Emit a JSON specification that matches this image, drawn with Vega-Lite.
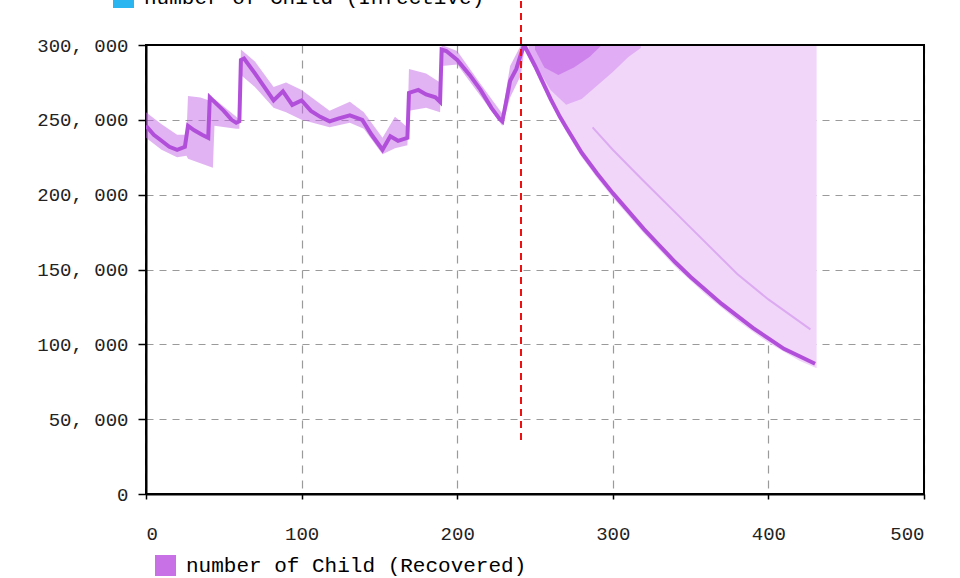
{
  "$schema": "https://vega.github.io/schema/vega-lite/v6.json",
  "width": 778,
  "height": 449,
  "autosize": "none",
  "padding": {"left": 146, "top": 45, "right": 36, "bottom": 84},
  "background": "white",
  "config": {
    "view": {"stroke": "black", "strokeWidth": 2},
    "axis": {
      "labelFont": "Liberation Mono",
      "labelFontSize": 19,
      "labelColor": "#222222",
      "domainColor": "black",
      "domainWidth": 2,
      "tickColor": "black",
      "tickWidth": 1.5,
      "gridColor": "#9a9a9a",
      "gridDash": [7, 6],
      "gridWidth": 1.2,
      "title": null
    },
    "legend": {
      "labelFont": "Liberation Mono",
      "labelFontSize": 21,
      "labelColor": "black",
      "labelLimit": 0,
      "symbolType": "square",
      "symbolSize": 440,
      "symbolStrokeWidth": 0,
      "labelOffset": 10,
      "title": null,
      "padding": 0
    }
  },
  "datasets": {
    "main": [
      {"t": 0, "v": 246000}, {"t": 5, "v": 240000}, {"t": 10, "v": 236000}, {"t": 15, "v": 232000},
      {"t": 20, "v": 230000}, {"t": 25, "v": 232000}, {"t": 27, "v": 246000}, {"t": 31, "v": 243000},
      {"t": 36, "v": 240000}, {"t": 40, "v": 238000}, {"t": 41, "v": 265000}, {"t": 46, "v": 260000},
      {"t": 50, "v": 256000}, {"t": 55, "v": 250000}, {"t": 58, "v": 248000}, {"t": 60, "v": 249000},
      {"t": 61, "v": 290000}, {"t": 63, "v": 291000}, {"t": 70, "v": 281000}, {"t": 76, "v": 272000},
      {"t": 82, "v": 263000}, {"t": 88, "v": 269000}, {"t": 94, "v": 260000}, {"t": 100, "v": 263000},
      {"t": 106, "v": 256000}, {"t": 112, "v": 252000}, {"t": 118, "v": 249000}, {"t": 124, "v": 251000},
      {"t": 131, "v": 253000}, {"t": 139, "v": 250000}, {"t": 145, "v": 240000}, {"t": 152, "v": 230000},
      {"t": 157, "v": 239000}, {"t": 162, "v": 236000}, {"t": 168, "v": 238000}, {"t": 169, "v": 268000},
      {"t": 175, "v": 270000}, {"t": 180, "v": 267000}, {"t": 186, "v": 265000}, {"t": 189, "v": 262000},
      {"t": 190, "v": 297000}, {"t": 193, "v": 296000}, {"t": 200, "v": 290000}, {"t": 208, "v": 280000},
      {"t": 215, "v": 270000}, {"t": 222, "v": 258000}, {"t": 227, "v": 251000}, {"t": 229, "v": 249000},
      {"t": 232, "v": 265000}, {"t": 234, "v": 276000}, {"t": 238, "v": 284000}, {"t": 241, "v": 294000},
      {"t": 243, "v": 300000}, {"t": 250, "v": 286000}, {"t": 255, "v": 275000}, {"t": 260, "v": 264000},
      {"t": 266, "v": 252000}, {"t": 270, "v": 245000}, {"t": 280, "v": 228000}, {"t": 290, "v": 214000},
      {"t": 300, "v": 201000}, {"t": 310, "v": 189000}, {"t": 320, "v": 177000}, {"t": 330, "v": 166000},
      {"t": 340, "v": 155000}, {"t": 350, "v": 145000}, {"t": 360, "v": 136000}, {"t": 370, "v": 127000},
      {"t": 380, "v": 119000}, {"t": 390, "v": 111000}, {"t": 400, "v": 104000}, {"t": 410, "v": 97000},
      {"t": 420, "v": 92000}, {"t": 430, "v": 87000}
    ],
    "band": [
      {"t": 0, "lo": 238000, "hi": 255000}, {"t": 10, "lo": 230000, "hi": 247000}, {"t": 20, "lo": 225000, "hi": 240000},
      {"t": 26, "lo": 226000, "hi": 240000}, {"t": 27, "lo": 224000, "hi": 266000}, {"t": 35, "lo": 221000, "hi": 265000},
      {"t": 43, "lo": 218000, "hi": 262000}, {"t": 44, "lo": 246000, "hi": 264000}, {"t": 58, "lo": 244000, "hi": 252000},
      {"t": 60, "lo": 244000, "hi": 250000}, {"t": 61, "lo": 280000, "hi": 297000}, {"t": 70, "lo": 272000, "hi": 289000},
      {"t": 82, "lo": 258000, "hi": 272000}, {"t": 90, "lo": 255000, "hi": 275000}, {"t": 100, "lo": 250000, "hi": 270000},
      {"t": 118, "lo": 245000, "hi": 256000}, {"t": 131, "lo": 248000, "hi": 262000}, {"t": 140, "lo": 244000, "hi": 255000},
      {"t": 152, "lo": 227000, "hi": 238000}, {"t": 160, "lo": 231000, "hi": 252000}, {"t": 168, "lo": 233000, "hi": 245000},
      {"t": 169, "lo": 256000, "hi": 284000}, {"t": 180, "lo": 258000, "hi": 281000}, {"t": 189, "lo": 255000, "hi": 275000},
      {"t": 190, "lo": 286000, "hi": 300000}, {"t": 200, "lo": 287000, "hi": 296000}, {"t": 215, "lo": 266000, "hi": 274000},
      {"t": 229, "lo": 246000, "hi": 254000}, {"t": 234, "lo": 265000, "hi": 286000}, {"t": 241, "lo": 280000, "hi": 300000},
      {"t": 243, "lo": 296000, "hi": 300000}
    ],
    "fan": [
      {"t": 243, "lo": 298000, "hi": 300000}, {"t": 250, "lo": 283000, "hi": 300000}, {"t": 260, "lo": 261000, "hi": 300000},
      {"t": 270, "lo": 242000, "hi": 300000}, {"t": 280, "lo": 225000, "hi": 300000}, {"t": 290, "lo": 211000, "hi": 300000},
      {"t": 300, "lo": 198000, "hi": 300000}, {"t": 320, "lo": 174000, "hi": 300000}, {"t": 340, "lo": 152000, "hi": 300000},
      {"t": 360, "lo": 133000, "hi": 300000}, {"t": 380, "lo": 116000, "hi": 300000}, {"t": 400, "lo": 101000, "hi": 300000},
      {"t": 420, "lo": 89000, "hi": 300000}, {"t": 431, "lo": 84000, "hi": 300000}
    ],
    "core": [
      {"t": 246, "lo": 296000, "hi": 300000}, {"t": 252, "lo": 284000, "hi": 300000}, {"t": 260, "lo": 270000, "hi": 300000},
      {"t": 270, "lo": 260000, "hi": 300000}, {"t": 280, "lo": 264000, "hi": 300000}, {"t": 290, "lo": 273000, "hi": 300000},
      {"t": 300, "lo": 282000, "hi": 300000}, {"t": 310, "lo": 292000, "hi": 300000}, {"t": 318, "lo": 298000, "hi": 300000}
    ],
    "dark": [
      {"t": 250, "lo": 297000, "hi": 300000}, {"t": 256, "lo": 285000, "hi": 300000}, {"t": 265, "lo": 280000, "hi": 300000},
      {"t": 275, "lo": 285000, "hi": 300000}, {"t": 285, "lo": 292000, "hi": 300000}, {"t": 292, "lo": 299000, "hi": 300000}
    ],
    "faint": [
      {"t": 287, "v": 245000}, {"t": 300, "v": 230000}, {"t": 319, "v": 210000}, {"t": 350, "v": 178000},
      {"t": 380, "v": 147000}, {"t": 400, "v": 130000}, {"t": 427, "v": 110000}
    ],
    "frame": [
      {"x": 0, "x2": 500, "y": 300000, "y2": 300000},
      {"x": 500, "x2": 500, "y": 0, "y2": 300000}
    ],
    "marker": [{"t": 241, "y0": 36000, "y1": 330000}],
    "legendrow": [{"t": 0, "v": 0}]
  },
  "layer": [
    {
      "data": {"name": "fan"},
      "mark": {"type": "area", "color": "#f1d6fa", "clip": true},
      "encoding": {
        "x": {"field": "t", "type": "quantitative", "scale": {"domain": [0, 500], "nice": false},
              "axis": {"values": [0, 100, 200, 300, 400, 500], "tickSize": 5, "labelPadding": 25, "gridDash": [8, 7]}},
        "y": {"field": "lo", "type": "quantitative", "scale": {"domain": [0, 300000], "nice": false},
              "axis": {"values": [0, 50000, 100000, 150000, 200000, 250000, 300000], "tickSize": 8, "labelPadding": 10,
                       "labelExpr": "replace(format(datum.value, ','), ',', ', ')"}},
        "y2": {"field": "hi"}
      }
    },
    {
      "data": {"name": "core"},
      "mark": {"type": "area", "color": "#d48cf0", "opacity": 0.55, "clip": true},
      "encoding": {
        "x": {"field": "t", "type": "quantitative"},
        "y": {"field": "lo", "type": "quantitative"},
        "y2": {"field": "hi"}
      }
    },
    {
      "data": {"name": "dark"},
      "mark": {"type": "area", "color": "#c060e4", "opacity": 0.55, "clip": true},
      "encoding": {
        "x": {"field": "t", "type": "quantitative"},
        "y": {"field": "lo", "type": "quantitative"},
        "y2": {"field": "hi"}
      }
    },
    {
      "data": {"name": "faint"},
      "mark": {"type": "line", "color": "#dcaaf0", "strokeWidth": 2, "clip": true},
      "encoding": {
        "x": {"field": "t", "type": "quantitative"},
        "y": {"field": "v", "type": "quantitative"}
      }
    },
    {
      "data": {"name": "band"},
      "mark": {"type": "area", "color": "#c468e6", "opacity": 0.5, "clip": true},
      "encoding": {
        "x": {"field": "t", "type": "quantitative"},
        "y": {"field": "lo", "type": "quantitative"},
        "y2": {"field": "hi"}
      }
    },
    {
      "data": {"name": "main"},
      "mark": {"type": "line", "strokeWidth": 4, "clip": true},
      "encoding": {
        "x": {"field": "t", "type": "quantitative"},
        "y": {"field": "v", "type": "quantitative"},
        "color": {"datum": "number of Child (Recovered)", "type": "nominal",
                  "scale": {"domain": ["number of Child (Recovered)"], "range": ["#b24fda"]},
                  "legend": {"orient": "none", "legendX": 9, "legendY": 510, "symbolFillColor": "#c870e6"}}
      }
    },
    {
      "data": {"name": "legendrow"},
      "mark": {"type": "point", "opacity": 0, "filled": true},
      "encoding": {
        "x": {"field": "t", "type": "quantitative"},
        "y": {"field": "v", "type": "quantitative"},
        "fill": {"datum": "number of Child (Infective)", "type": "nominal",
                 "scale": {"domain": ["number of Child (Infective)"], "range": ["#2ab4f0"]},
                 "legend": {"orient": "none", "legendX": -33, "legendY": -58, "symbolOpacity": 1}}
      }
    },
    {
      "data": {"name": "frame"},
      "mark": {"type": "rule", "color": "black", "strokeWidth": 2, "clip": false},
      "encoding": {
        "x": {"field": "x", "type": "quantitative"},
        "x2": {"field": "x2"},
        "y": {"field": "y", "type": "quantitative"},
        "y2": {"field": "y2"}
      }
    },
    {
      "data": {"name": "marker"},
      "mark": {"type": "rule", "color": "#ee1111", "strokeWidth": 2, "strokeDash": [7, 5], "clip": false},
      "encoding": {
        "x": {"field": "t", "type": "quantitative"},
        "y": {"field": "y0", "type": "quantitative"},
        "y2": {"field": "y1"}
      }
    }
  ],
  "resolve": {"scale": {"color": "independent", "fill": "independent"}}
}
